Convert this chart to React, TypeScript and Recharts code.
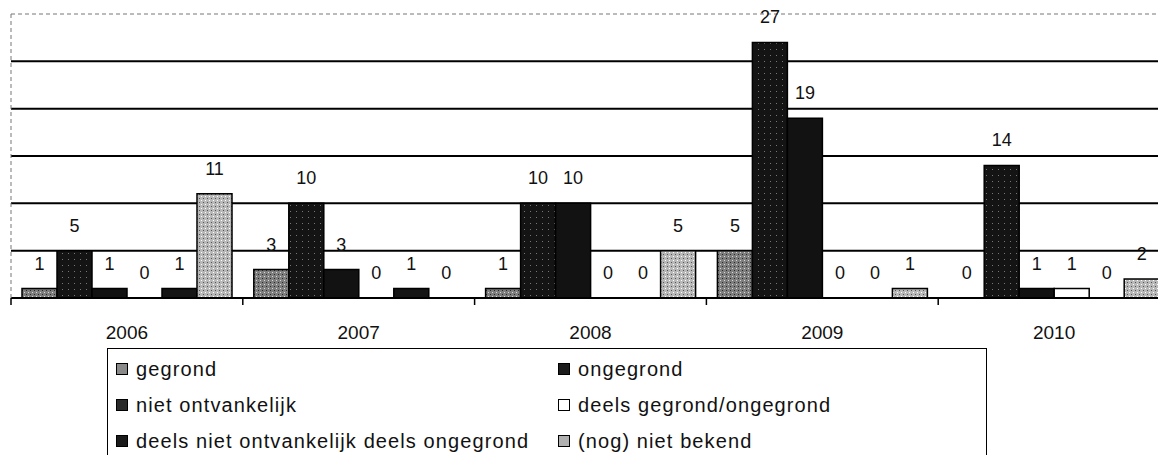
import React from 'react';
import { BarChart, Bar, XAxis, YAxis, CartesianGrid, Legend, LabelList, ReferenceLine, Rectangle } from 'recharts';

const years = ['2006', '2007', '2008', '2009', '2010'];
const gegrond = [1, 3, 1, 5, 0];
const ongegrond = [5, 10, 10, 27, 14];
const nietOntvankelijk = [1, 3, 10, 19, 1];
const deelsGegrond = [0, 0, 0, 0, 1];
const deelsNietOntvankelijk = [1, 1, 0, 0, 0];
const nogNietBekend = [11, 0, 5, 1, 2];
const yTicks = [0, 5, 10, 15, 20, 25, 30];
const gridValues = [5, 10, 15, 20, 25];
const Y_MAX = 30;

const series = [
  { key: 'gegrond', name: 'gegrond', fill: 'url(#pGegrond)', swatch: '#8a8a8a' },
  { key: 'ongegrond', name: 'ongegrond', fill: 'url(#pDark)', swatch: '#1c1c1c' },
  { key: 'nietOntvankelijk', name: 'niet ontvankelijk', fill: '#121212', swatch: '#2a2a2a' },
  { key: 'deelsGegrond', name: 'deels gegrond/ongegrond', fill: '#ffffff', swatch: '#ffffff' },
  { key: 'deelsNietOntvankelijk', name: 'deels niet ontvankelijk deels ongegrond', fill: '#151515', swatch: '#1a1a1a' },
  { key: 'nogNietBekend', name: '(nog) niet bekend', fill: 'url(#pLight)', swatch: '#b0b0b0' },
];

const data = years.map((year, i) => ({
  year,
  gegrond: gegrond[i],
  ongegrond: ongegrond[i],
  nietOntvankelijk: nietOntvankelijk[i],
  deelsGegrond: deelsGegrond[i],
  deelsNietOntvankelijk: deelsNietOntvankelijk[i],
  nogNietBekend: nogNietBekend[i],
}));

const FONT = '"Liberation Sans", Arial, Helvetica, sans-serif';
const CHART_W = 1172;
const MARGIN = { top: 14, right: 2, left: 10, bottom: 117 };
const BAND = (CHART_W - MARGIN.left - 1 - MARGIN.right) / years.length;

const YearTick = ({ x, y, payload }: any) => (
  <g>
    <line x1={x - BAND / 2} y1={y} x2={x - BAND / 2} y2={y + 7} stroke="#000" strokeWidth={1.5} />
    <text x={x} y={y + 41} textAnchor="middle" fontSize={19} fontFamily={FONT} fill="#111">
      {payload.value}
    </text>
  </g>
);

// zero values still need a label at the baseline, but no visible bar
const BarShape = (props: any) => {
  if (!props.value || (Array.isArray(props.value) && props.value[1] === 0)) return <g />;
  return <Rectangle {...props} />;
};

// grid lines only at 5..25 (not at the dashed top border)
const gridCoords = ({ yAxis, offset }: any) =>
  gridValues.map((v) =>
    yAxis && typeof yAxis.scale === 'function'
      ? yAxis.scale(v)
      : offset.top + offset.height * (1 - v / Y_MAX)
  );

const renderLegend = () => {
  // two columns, filled row by row like the Excel legend
  return (
    <div
      style={{
        border: '1.5px solid #000',
        height: 140,
        boxSizing: 'border-box',
        paddingTop: 2,
        paddingLeft: 8,
        display: 'grid',
        gridTemplateColumns: '442px 1fr',
        gridAutoRows: '36px',
        fontFamily: FONT,
        fontSize: 20,
        letterSpacing: '1.1px',
        color: '#111',
        textAlign: 'left',
      }}
    >
      {series.map((s) => (
        <div key={s.key} style={{ display: 'flex', alignItems: 'center', whiteSpace: 'nowrap' }}>
          <span
            style={{
              display: 'inline-block',
              width: 10,
              height: 10,
              background: s.swatch,
              border: '1.5px solid #000',
              marginRight: 8,
              flex: 'none',
            }}
          />
          {s.name}
        </div>
      ))}
    </div>
  );
};

export default function App() {
  return (
    <div style={{ position: 'absolute', left: 0, top: 0, width: 1158, height: 455, overflow: 'hidden', background: '#fff' }}>
      <BarChart width={CHART_W} height={455} data={data} margin={MARGIN} barCategoryGap={11} barGap={0}>
        <defs>
          <pattern id="pGegrond" width="4" height="4" patternUnits="userSpaceOnUse">
            <rect width="4" height="4" fill="#7e7e7e" />
            <rect x="0" y="0" width="1" height="1" fill="#d8d8d8" />
            <rect x="2" y="2" width="1" height="1" fill="#2a2a2a" />
          </pattern>
          <pattern id="pLight" width="4" height="4" patternUnits="userSpaceOnUse">
            <rect width="4" height="4" fill="#b8b8b8" />
            <rect x="1" y="0" width="1" height="1" fill="#fff" />
            <rect x="3" y="2" width="1" height="1" fill="#555" />
          </pattern>
          <pattern id="pDark" width="6" height="6" patternUnits="userSpaceOnUse">
            <rect width="6" height="6" fill="#141414" />
            <rect x="2" y="1" width="1" height="1" fill="#777" />
          </pattern>
        </defs>
        <CartesianGrid
          vertical={false}
          horizontalCoordinatesGenerator={gridCoords}
          stroke="#000"
          strokeWidth={2}
        />
        <ReferenceLine y={Y_MAX} stroke="#777" strokeDasharray="4 3" strokeWidth={1} />
        <XAxis
          dataKey="year"
          axisLine={{ stroke: '#000', strokeWidth: 2 }}
          tickLine={false}
          tickSize={0}
          tickMargin={0}
          height={40}
          interval={0}
          tick={<YearTick />}
        />
        <YAxis
          domain={[0, Y_MAX]}
          ticks={yTicks}
          width={1}
          tick={false}
          tickLine={false}
          axisLine={{ stroke: '#777', strokeDasharray: '4 3' }}
        />
        <Legend
          verticalAlign="middle"
          align="center"
          content={renderLegend}
          wrapperStyle={{ top: 348, left: 107, width: 880, height: 140 }}
        />
        {series.map((s) => (
          <Bar
            key={s.key}
            dataKey={s.key}
            name={s.name}
            fill={s.fill}
            stroke="#000"
            strokeWidth={1.5}
            minPointSize={0.5}
            shape={BarShape}
            isAnimationActive={false}
          >
            <LabelList dataKey={s.key} position="top" offset={19} fontSize={18} fontFamily={FONT} fill="#111" />
          </Bar>
        ))}
      </BarChart>
    </div>
  );
}
